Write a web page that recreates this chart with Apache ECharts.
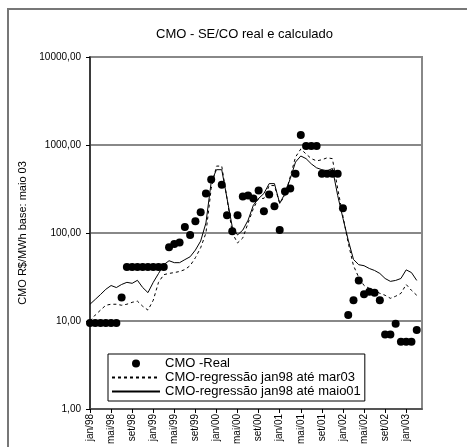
<!DOCTYPE html>
<html>
<head>
<meta charset="utf-8">
<script src="https://cdn.jsdelivr.net/npm/echarts@6/dist/echarts.min.js"></script>
<style>
  html, body { margin: 0; padding: 0; background: #fff; }
  #cmo-chart { width: 467px; height: 447px; }
</style>
</head>
<body>
<div id="cmo-chart"></div>
<script>
// meses jan/98 .. abr/03
var meses = ['jan', 'fev', 'mar', 'abr', 'mai', 'jun', 'jul', 'ago', 'set', 'out', 'nov', 'dez'];
var categorias = [];
for (var a = 98; a <= 103; a++) {
    for (var m = 0; m < 12; m++) {
        if (categorias.length < 64) {
            categorias.push(meses[m] + '/' + String(a % 100).padStart(2, '0'));
        }
    }
}

// CMO real (pontos)
var cmoReal = [9.5, 9.5, 9.5, 9.5, 9.5, 9.5, 18.5,
    41, 41, 41, 41, 41, 41, 41, 41,
    69, 75, 78, 117, 95, 136, 172, 281, 405, null,
    354, 159, 105, 159, 260, 266, 247, 304, 177, 274, 201, 108, 297, 320, 472, 1295,
    974, 974, 974, 472, 472, 472, 472, 191,
    11.7, 17.2, 28.9, 20.1, 21.5, 21, 17.2, 7.0, 7.0, 9.3, 5.8, 5.8, 5.8, 7.9, null];

// regressão jan98 até mar03 (tracejada)
var regMar03 = [10, 11.7, 13.3, 15.1, 15.5, 15.5, 15.1, 15.5, 16.3, 16.8, 14.7, 13.3, 17.2,
    27.5, 33.6, 34.7, 35.5, 36.5, 38.4, 42.5, 52.4, 68, 100, 320, 576, 576, 247, 100, 77, 88,
    130, 190, 247, 247, 346, 346, 217, 267, 437, 730, 900, 790, 700, 660, 680, 715, 700, 320,
    155, 77, 42.5, 31.3, 25.3, 23.5, 22.3, 20.6, 19.6, 18.1, 19.1, 20.6, 26, 22.3, 19.6, null];

// regressão jan98 até maio01 (contínua)
var regMaio01 = [15.5, 17.6, 20, 22.9, 25.3, 24, 26, 27.5, 26.8, 29, 24, 21, 27.5,
    34.6, 43.6, 48.4, 46, 46, 49.8, 53.7, 64, 81, 130, 380, 524, 524, 247, 117, 95, 108,
    140, 207, 247, 281, 364, 364, 217, 281, 415, 640, 750, 700, 610, 550, 524, 510, 540, 267,
    147, 83, 50, 43.6, 42.5, 39.5, 37.5, 34.7, 30.4, 28.2, 28.9, 30.4, 38.1, 35.5, 28.9, null];

var fonte = "'Liberation Sans', Arial, sans-serif";
var myChart = echarts.init(document.getElementById('cmo-chart'));

// sem símbolo no ícone da legenda das linhas
var semSimbolo = { opacity: 0, color: 'rgba(0,0,0,0)', borderWidth: 0 };

var option = {
    backgroundColor: '#fff',
    animation: false,
    textStyle: { fontFamily: fonte, color: '#000' },
    title: {
        text: 'CMO - SE/CO real e calculado',
        left: 151,
        top: 23,
        textStyle: { fontFamily: fonte, fontSize: 13, fontWeight: 'normal', color: '#000' }
    },
    graphic: [{
        type: 'rect',
        shape: { x: 8, y: 9, width: 600, height: 600 },
        style: { fill: 'none', stroke: '#777', lineWidth: 2 },
        silent: true
    }],
    legend: {
        orient: 'vertical',
        left: 108,
        top: 354,
        padding: [3, 4, 3, 3],
        itemGap: 1,
        itemWidth: 48,
        itemHeight: 8,
        backgroundColor: '#fff',
        borderColor: '#000',
        borderWidth: 1,
        textStyle: { fontFamily: fonte, fontSize: 13, color: '#000', lineHeight: 13 },
        data: [
            { name: 'CMO -Real', icon: 'circle' },
            { name: 'CMO-regressão jan98 até mar03', itemStyle: semSimbolo },
            { name: 'CMO-regressão jan98 até maio01', itemStyle: semSimbolo }
        ]
    },
    grid: {
        left: 90,
        right: 45,
        top: 57,
        bottom: 34,
        show: true,
        borderColor: '#888',
        borderWidth: 2
    },
    xAxis: {
        type: 'category',
        data: categorias,
        boundaryGap: false,
        axisLine: { lineStyle: { color: '#444', width: 1.5 } },
        axisTick: { interval: 3, length: 4, lineStyle: { color: '#000' } },
        axisLabel: { interval: 3, rotate: 90, margin: 5, fontSize: 10, color: '#000', fontFamily: fonte },
        splitLine: { show: false }
    },
    yAxis: {
        type: 'log',
        logBase: 10,
        min: 1,
        max: 10000,
        name: 'CMO R$/MWh base: maio 03',
        nameLocation: 'middle',
        nameGap: 56,
        nameTextStyle: { fontSize: 11, color: '#000', fontFamily: fonte },
        axisLine: { show: true, lineStyle: { color: '#222', width: 1.5 } },
        axisTick: { show: true, length: 4, lineStyle: { color: '#000' } },
        axisLabel: {
            fontSize: 10, color: '#000', margin: 9, fontFamily: fonte,
            formatter: function(v) { return v.toFixed(2).replace('.', ','); }
        },
        splitLine: { show: true, lineStyle: { color: '#888', width: 2 } }
    },
    series: [{
        name: 'CMO -Real',
        type: 'scatter',
        data: cmoReal,
        symbol: 'circle',
        symbolSize: 8,
        itemStyle: { color: '#000', opacity: 1 },
        z: 5
    }, {
        name: 'CMO-regressão jan98 até mar03',
        type: 'line',
        data: regMar03,
        symbol: 'none',
        showSymbol: false,
        itemStyle: { color: '#000' },
        lineStyle: { color: '#000', width: 1, type: [3, 3] }
    }, {
        name: 'CMO-regressão jan98 até maio01',
        type: 'line',
        data: regMaio01,
        symbol: 'none',
        showSymbol: false,
        itemStyle: { color: '#000' },
        lineStyle: { color: '#000', width: 1 }
    }]
};

myChart.setOption(option);
</script>
</body>
</html>
